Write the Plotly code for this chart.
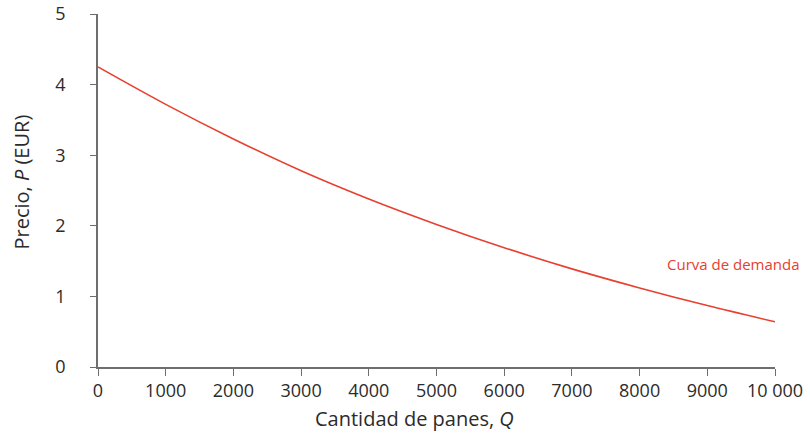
import plotly.graph_objects as go

# demand curve
quantity = [0, 1000, 2000, 3000, 4000, 5000, 6000, 7000, 8000, 9000, 10000]
price = [4.25, 3.72, 3.23, 2.78, 2.38, 2.02, 1.69, 1.39, 1.12, 0.87, 0.64]

x_ticks = [0, 1000, 2000, 3000, 4000, 5000, 6000, 7000, 8000, 9000, 10000]
x_labels = ["0", "1000", "2000", "3000", "4000", "5000", "6000", "7000", "8000", "9000", "10 000"]
y_ticks = [0, 1, 2, 3, 4, 5]

red = "#e8402f"
ink = "#2b2b2b"
axis_grey = "#6e6e6e"

fig = go.Figure()
fig.add_trace(
    go.Scatter(
        x=quantity,
        y=price,
        mode="lines",
        line=dict(color=red, width=1.6, shape="spline"),
        hoverinfo="skip",
    )
)

fig.add_annotation(
    x=9380, y=1.46, text="Curva de demanda", showarrow=False,
    font=dict(color=red, size=15),
)
# axis titles, placed a bit off-centre like the original
fig.add_annotation(
    xref="paper", yref="paper", x=0.468, y=-0.145, yanchor="middle",
    text="Cantidad de panes, <i>Q</i>", showarrow=False, font=dict(size=20),
)
fig.add_annotation(
    xref="paper", yref="paper", x=-0.113, y=0.524, xanchor="center", yanchor="middle",
    text="Precio, <i>P</i> (EUR)", textangle=-90, showarrow=False, font=dict(size=20),
)

fig.update_layout(
    width=810,
    height=436,
    template="plotly_white",
    font=dict(family="Open Sans, sans-serif", color=ink, size=18),
    showlegend=False,
    margin=dict(t=14, l=98, r=35, b=69),
    plot_bgcolor="white",
    paper_bgcolor="white",
)
fig.update_xaxes(
    range=[0, 10000],
    tickvals=x_ticks,
    ticktext=x_labels,
    showgrid=False,
    zeroline=False,
    showline=True,
    linecolor=axis_grey,
    linewidth=1.5,
    ticks="outside",
    ticklen=7,
    tickcolor=axis_grey,
    tickfont=dict(size=18),
    ticklabeloverflow="allow",
    automargin=False,
)
fig.update_yaxes(
    range=[0, 5],
    tickvals=y_ticks,
    showgrid=False,
    zeroline=False,
    showline=True,
    linecolor=axis_grey,
    linewidth=1.5,
    ticks="outside",
    ticklen=6,
    tickcolor=axis_grey,
    tickfont=dict(size=18),
    ticklabelstandoff=21,
    ticklabeloverflow="allow",
    automargin=False,
)

# drop the browser's default body margin so the figure sits at the page corner
fig.write_html(
    "out.html",
    config={"displayModeBar": False},
    post_script="document.body.style.margin = '0';",
)
